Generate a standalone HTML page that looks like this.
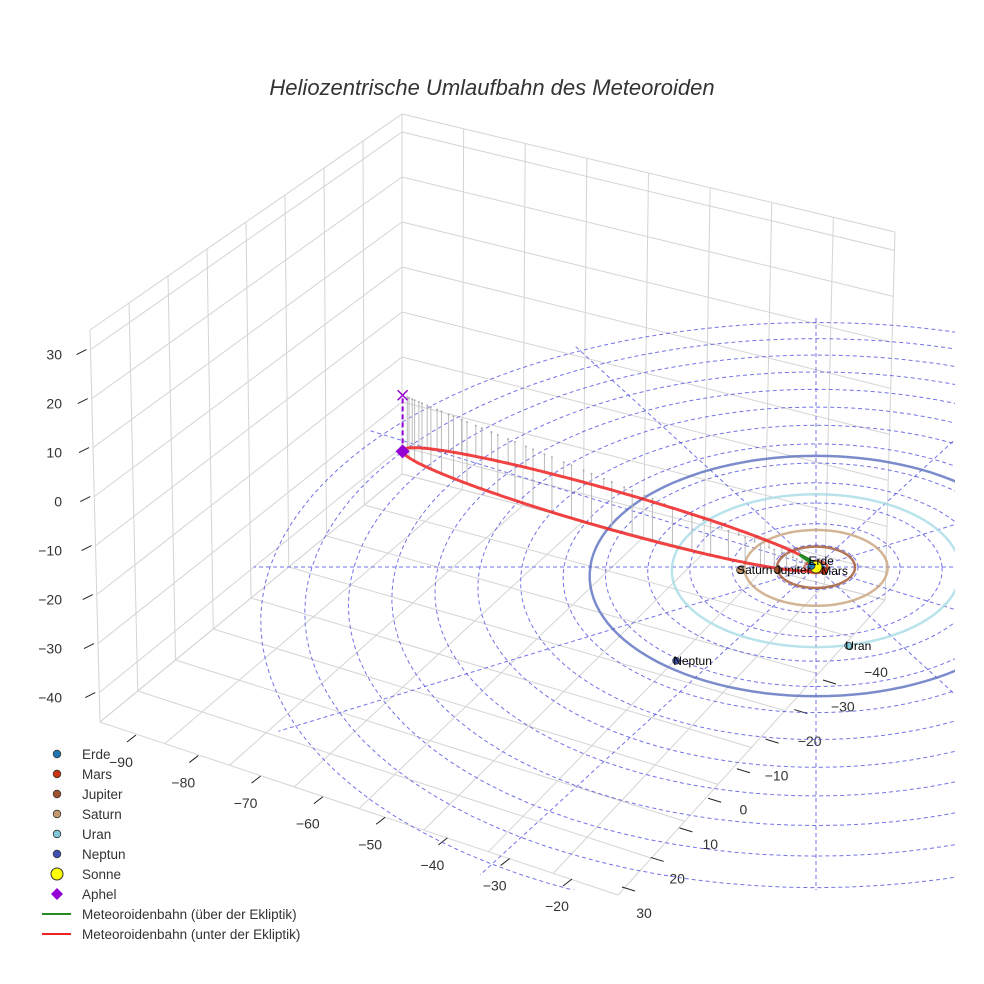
<!DOCTYPE html>
<html><head><meta charset="utf-8"><style>
body{margin:0;background:#fff;}
svg{display:block;font-family:"Liberation Sans",sans-serif;}
</style></head><body>
<svg id="chart" width="984" height="984" viewBox="0 0 984 984">
<defs><clipPath id="clipPlot"><rect x="0" y="250" width="955" height="640"/></clipPath></defs>
<rect width="984" height="984" fill="#fff"/>
<text x="492" y="95" text-anchor="middle" font-size="22" font-style="italic" fill="#333">Heliozentrische Umlaufbahn des Meteoroiden</text>
<g id="grid"></g>
<g id="axes"></g>
<g id="eclip" clip-path="url(#clipPlot)"></g>
<g id="orbits" clip-path="url(#clipPlot)"></g>
<g id="meteor"></g>
<g id="planets"></g>
<g id="legend"></g>
</svg>
<script>
// ---- data ----
const zTicks=[30,20,10,0,-10,-20,-30,-40];
const xTicks=[-90,-80,-70,-60,-50,-40,-30,-20];
const yTicks=[30,20,10,0,-10,-20,-30,-40];
const planetNames=["Erde","Mars","Jupiter","Saturn","Uran","Neptun"];
const planetX=[-0.6,1.1,-5.1,-10.1,4.1,-17.6];
const planetY=[0.3,-1.0,-0.8,-0.8,-18.9,-22.3];
const planetColors=["#1f77b4","#cc3311","#a0522d","#c49a6c","#7ec8d8","#3f51b5"];
const orbitRadii=[1.0,1.52,5.2,9.55,19.2,30.1];
const orbitColors=["#1f77b4","#cc3311","#a0522d","#c8a27a","#a8dce6","#5a6fbf"];
const ringRadii=[5.6,11.2,16.8,22.4,28,33.6,39.2,44.8,50.4,56,61.6,67.2,72.8];
const radialAngles=[0,30,60,90,120,150,180,210,240,270,300,330];
const aphel=[-61.8,48.5,-13.5];
const perihelDist=0.25;

const NS="http://www.w3.org/2000/svg";
function mk(tag,attrs,parent){const e=document.createElementNS(NS,tag);for(const k in attrs)e.setAttribute(k,attrs[k]);parent.appendChild(e);return e;}
const persp=0.0025;
function P(X,Y,Z){const f=1/(1+persp*Y);return [816+7.5*X*f,567-3.97*Y*f-4.66*(Z||0)*f];}
const G=document.getElementById('grid'),AX=document.getElementById('axes'),EC=document.getElementById('eclip'),OR=document.getElementById('orbits'),ME=document.getElementById('meteor'),PL=document.getElementById('planets'),LG=document.getElementById('legend');

function lerp(a,b,t){return [a[0]+(b[0]-a[0])*t,a[1]+(b[1]-a[1])*t];}
function quadPt(p00,p10,p01,p11,s,t){return lerp(lerp(p00,p10,s),lerp(p01,p11,s),t);}
function gl(a,b,col){const l=mk('line',{x1:a[0],y1:a[1],x2:b[0],y2:b[1],stroke:col||'#d4d4d4','stroke-width':1},G);

}
const TB=[402,114],TL=[90,330],BL=[100,722],BB=[402,474],TR=[895,232],BR=[885,600],F=[618,895];
const zTop=34,zBot=-46;
function zu(z){return (zTop-z)/(zTop-zBot);}
for(let j=0;j<=8;j++){const t=j/8;gl(lerp(TL,TB,t),lerp(BL,BB,t));}
[zTop,30,20,10,0,-10,-20,-30,-40,zBot].forEach(z=>{const u=zu(z);gl(lerp(TL,BL,u),lerp(TB,BB,u));});
for(let j=0;j<=8;j++){const t=j/8;gl(lerp(TB,TR,t),lerp(BB,BR,t));}
[zTop,30,20,10,0,-10,-20,-30,-40,zBot].forEach(z=>{const u=zu(z);gl(lerp(TB,BB,u),lerp(TR,BR,u));});
for(let j=0;j<=8;j++){const t=j/8;gl(quadPt(BB,BR,BL,F,t,0),quadPt(BB,BR,BL,F,t,1));gl(quadPt(BB,BR,BL,F,0,t),quadPt(BB,BR,BL,F,1,t));}

// ---- axes ticks ----
zTicks.forEach(z=>{const e=lerp(TL,BL,zu(z));
 const tk=mk('line',{x1:e[0]-14,y1:e[1]+5,x2:e[0]-4,y2:e[1],stroke:'#222','stroke-width':1},AX);
 
 const tx=mk('text',{x:62,y:e[1]+10,'text-anchor':'end','font-size':14,fill:'#333'},AX);tx.textContent=String(z).replace('-','\u2212');
 });
xTicks.forEach((v,i)=>{const t=i/(xTicks.length-1);const lab=lerp([121,767],[557,911],t);const tp=lerp([127,742],[563,886],t);
 const tk=mk('line',{x1:tp[0],y1:tp[1],x2:tp[0]+9,y2:tp[1]-7,stroke:'#222','stroke-width':1},AX);
 
 const tx=mk('text',{x:lab[0],y:lab[1],'text-anchor':'middle','font-size':14,fill:'#333'},AX);tx.textContent=String(v).replace('-','\u2212');
 });
yTicks.forEach((v,i)=>{const t=i/(yTicks.length-1);const lab=lerp([644,918],[876,677],t);const tp=lerp([622,887],[823,680],t);
 const tk=mk('line',{x1:tp[0],y1:tp[1],x2:tp[0]+13,y2:tp[1]+4,stroke:'#222','stroke-width':1},AX);
 
 const tx=mk('text',{x:lab[0],y:lab[1],'text-anchor':'middle','font-size':14,fill:'#333'},AX);tx.textContent=String(v).replace('-','\u2212');
 });

function circlePath(r){let d='';for(let i=0;i<=120;i++){const a=i/120*2*Math.PI;const p=P(r*Math.cos(a),r*Math.sin(a),0);d+=(i?'L':'M')+p[0].toFixed(1)+' '+p[1].toFixed(1);}return d+'Z';}
// ---- ecliptic grid ----
const C=P(0,0,0);
ringRadii.forEach(r=>{const e=mk('path',{d:circlePath(r),fill:'none',stroke:'#5050e0','stroke-opacity':0.8,'stroke-width':1,'stroke-dasharray':'4 3'},EC);
 });
radialAngles.forEach(a=>{const R=75,rad=a*Math.PI/180;const p=P(R*Math.cos(rad),R*Math.sin(rad),0);
 const l=mk('line',{x1:C[0],y1:C[1],x2:p[0],y2:p[1],stroke:'#5050e0','stroke-opacity':0.8,'stroke-width':1,'stroke-dasharray':'4 3'},EC);
 });

// ---- planet orbits ----
orbitRadii.forEach((r,i)=>{const e=mk('path',{d:circlePath(r),fill:'none',stroke:orbitColors[i],'stroke-opacity':0.8,'stroke-width':2.5},OR);
 });

// ---- meteoroid orbit ----
const Q=Math.hypot(...aphel);const u=aphel.map(v=>v/Q);
let n=[0-(u[2])*u[0],0-(u[2])*u[1],1-(u[2])*u[2]];const nn=Math.hypot(...n);const w=n.map(v=>v/nn);
const a=(Q+perihelDist)/2,e=(Q-perihelDist)/(Q+perihelDist),b=a*Math.sqrt(1-e*e);
function orb(E){const k=-a*(Math.cos(E)-e),s=b*Math.sin(E);return [k*u[0]+s*w[0],k*u[1]+s*w[1],k*u[2]+s*w[2]];}
for(let i=0;i<60;i++){const E=0.25+i*(2*Math.PI-0.5)/59;const p=orb(E);if(p[0]<aphel[0]+0.6)continue;
 const s=P(p[0],p[1],p[2]),t=P(p[0],p[1],0);
 const l=mk('line',{x1:s[0],y1:s[1],x2:t[0],y2:t[1],stroke:'#bbb','stroke-width':1},ME);
 
 const d=mk('circle',{cx:t[0],cy:t[1],r:1,fill:'#aaa'},ME);
 }
let red='',green='';
for(let i=0;i<=400;i++){const E=i/400*2*Math.PI;const p=orb(E);const s=P(p[0],p[1],p[2]);
 if(p[2]>0&&Math.hypot(p[0],p[1])<3){green+=(green?' L':'M')+s[0].toFixed(1)+' '+s[1].toFixed(1);}
 red+=(i?' L':'M')+s[0].toFixed(1)+' '+s[1].toFixed(1);}
const rp=mk('path',{d:red,fill:'none',stroke:'#ee2222','stroke-opacity':0.85,'stroke-width':3},ME);

if(green){const gp=mk('path',{d:green,fill:'none',stroke:'#228b22','stroke-width':3},ME);
 }
const ap=P(aphel[0],aphel[1],aphel[2]),apx=P(aphel[0],aphel[1],0);
const dl=mk('line',{x1:ap[0],y1:ap[1],x2:apx[0],y2:apx[1],stroke:'#9400d3','stroke-width':2,'stroke-dasharray':'5 3'},ME);

const xm=mk('path',{d:`M${apx[0]-5} ${apx[1]-5}L${apx[0]+5} ${apx[1]+5}M${apx[0]-5} ${apx[1]+5}L${apx[0]+5} ${apx[1]-5}`,stroke:'#9400d3','stroke-width':1.5},ME);

const dm=mk('path',{d:`M${ap[0]} ${ap[1]-7}L${ap[0]+7} ${ap[1]}L${ap[0]} ${ap[1]+7}L${ap[0]-7} ${ap[1]}Z`,fill:'#9400d3'},ME);


// ---- planets ----
const sun=mk('circle',{cx:C[0],cy:C[1],r:6,fill:'#ffff00',stroke:'#333','stroke-width':1},PL);

const labDy=[-1,4,4,4,4,4];
planetNames.forEach((nm,i)=>{const p=P(planetX[i],planetY[i],0);
 const c=mk('circle',{cx:p[0],cy:p[1],r:3.5,fill:planetColors[i],stroke:'#333','stroke-width':0.8},PL);
 
 const t=mk('text',{x:p[0]-3,y:p[1]+labDy[i],'font-size':12,fill:'#000'},PL);t.textContent=nm;
 });

// ---- legend ----
const legNames=["Erde","Mars","Jupiter","Saturn","Uran","Neptun","Sonne","Aphel","Meteoroidenbahn (über der Ekliptik)","Meteoroidenbahn (unter der Ekliptik)"];
const legColors=["#1f77b4","#cc3311","#a0522d","#c49a6c","#7ec8d8","#3f51b5","#ffff00","#9400d3","#228b22","#ee2222"];
legNames.forEach((nm,i)=>{const y=754+i*20;const g=mk('g',{},LG);
 
 if(i<6){mk('circle',{cx:57,cy:y,r:3.8,fill:legColors[i],stroke:'#333','stroke-width':0.8},g);}
 else if(i===6){mk('circle',{cx:57,cy:y,r:6,fill:legColors[i],stroke:'#333','stroke-width':1},g);}
 else if(i===7){mk('path',{d:`M57 ${y-6}L63 ${y}L57 ${y+6}L51 ${y}Z`,fill:legColors[i]},g);}
 else{mk('line',{x1:42,y1:y,x2:71,y2:y,stroke:legColors[i],'stroke-width':2},g);}
 const t=mk('text',{x:82,y:y+5,'font-size':13.5,fill:'#333'},g);t.textContent=nm;});
</script>
</body></html>
